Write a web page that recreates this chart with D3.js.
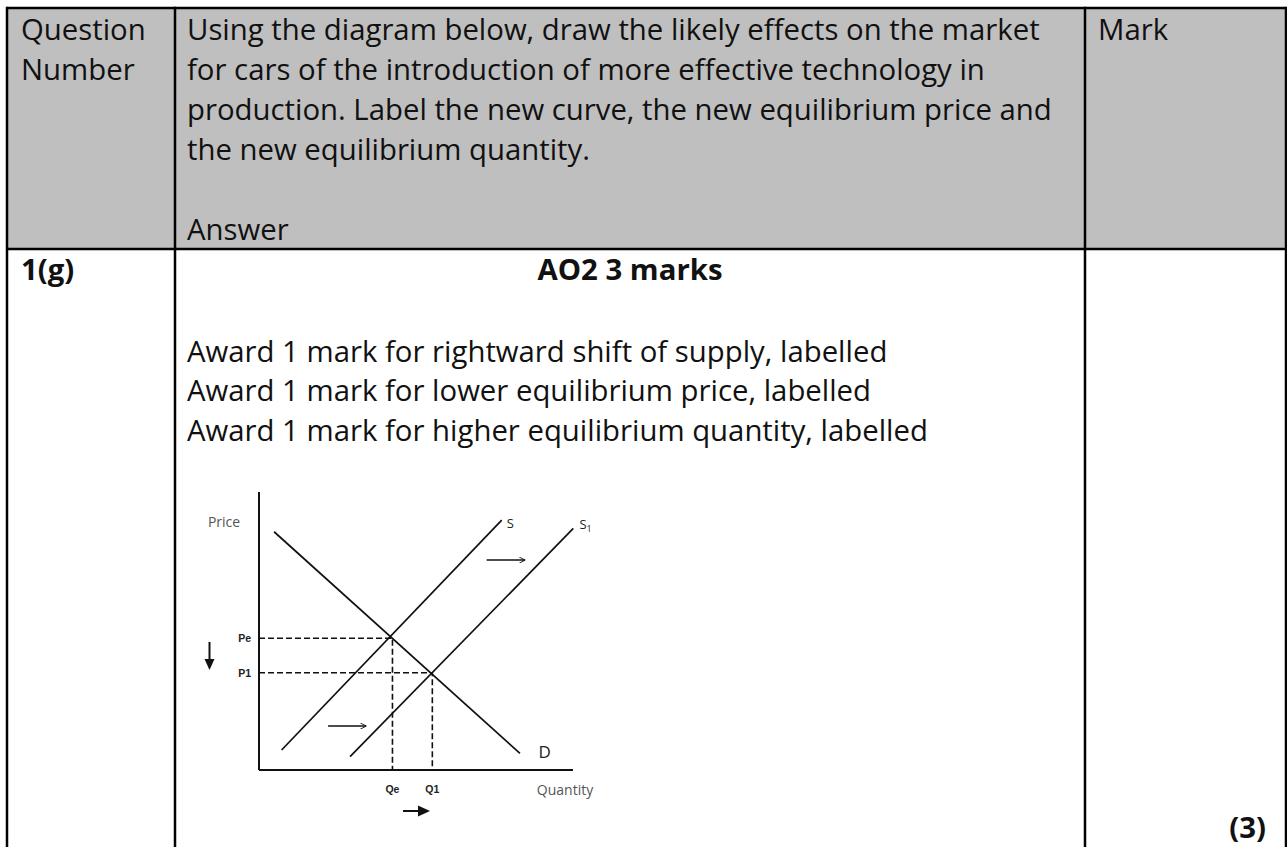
<!DOCTYPE html>
<html>
<head>
<meta charset="utf-8">
<script src="https://cdn.jsdelivr.net/npm/d3@7"></script>
<style>
  html, body { margin: 0; padding: 0; background: #fff; }
  svg { display: block; }
</style>
</head>
<body>
<svg id="chart" width="1287" height="847"></svg>
<script>
// ---------- Data ----------
const headerCells = ["Question\nNumber",
  "Using the diagram below, draw the likely effects on the market\nfor cars of the introduction of more effective technology in\nproduction. Label the new curve, the new equilibrium price and\nthe new equilibrium quantity.\n\nAnswer",
  "Mark"];
const questionNumber = "1(g)";
const answerTitle = "AO2 3 marks";
const answerLines = [
  "Award 1 mark for rightward shift of supply, labelled",
  "Award 1 mark for lower equilibrium price, labelled",
  "Award 1 mark for higher equilibrium quantity, labelled"
];
const markTotal = "(3)";

// diagram curves (quantity, price) on a 0-100 scale
const demandCurve = [[4.8, 85.7], [83.1, 6.0]];
const supplyCurve = [[7.2, 7.2], [77.3, 89.9]];
const supplyCurve1 = [[29.0, 4.8], [100.1, 86.9]];
const equilibria = [
  { q: 42.5, p: 47.4, qLabel: "Qe", pLabel: "Pe" },
  { q: 55.2, p: 35.0, qLabel: "Q1", pLabel: "P1" }
];
const curveLabels = [
  { q: 80.0, p: 89.0, text: "S", sub: "" },
  { q: 104.0, p: 88.5, text: "S", sub: "1" },
  { q: 91.0, p: 6.0, text: "D", sub: "" }
];
const shiftArrows = [[[72.5, 75.5], [84.8, 75.5]], [[22.0, 15.8], [34.2, 15.8]]];
const axisLabels = { price: "Price", quantity: "Quantity" };

// ---------- Layout ----------
const svg = d3.select("#chart");
const colX = [7, 175, 1085, 1286];
const rowY = [8, 249, 847];
const font = "'Open Sans', sans-serif";
const fs = 29.33, lh = 39.9;

// header background
svg.append("rect").attr("x", colX[0]).attr("y", rowY[0])
  .attr("width", colX[3] - colX[0]).attr("height", rowY[1] - rowY[0])
  .attr("fill", "#bfbfbf");

// header text
const textX = [21, 187, 1098];
headerCells.forEach((cell, i) => {
  const t = svg.append("text").attr("font-family", font).attr("font-size", fs)
    .attr("fill", "#111");
  cell.split("\n").forEach((line, j) => {
    t.append("tspan").attr("x", textX[i]).attr("y", 40 + j * lh).text(line);
  });
});

// body
svg.append("text").attr("x", 21).attr("y", 280).attr("font-family", font)
  .attr("font-size", fs).attr("font-weight", "bold").attr("fill", "#111").text(questionNumber);
svg.append("text").attr("x", (colX[1] + colX[2]) / 2).attr("y", 280).attr("text-anchor", "middle")
  .attr("font-family", font).attr("font-size", fs).attr("font-weight", "bold").attr("fill", "#111")
  .text(answerTitle);
answerLines.forEach((line, i) => {
  svg.append("text").attr("x", 187).attr("y", 361.5 + i * lh).attr("font-family", font)
    .attr("font-size", fs).attr("fill", "#111").text(line);
});
svg.append("text").attr("x", 1266).attr("y", 838).attr("text-anchor", "end")
  .attr("font-family", font).attr("font-size", fs).attr("font-weight", "bold").attr("fill", "#111")
  .text(markTotal);

// table borders
const border = svg.append("g").attr("stroke", "#000").attr("stroke-width", 2.5).attr("fill", "none");
border.append("line").attr("x1", colX[0]).attr("x2", colX[3]).attr("y1", rowY[0]).attr("y2", rowY[0]);
border.append("line").attr("x1", colX[0]).attr("x2", colX[3]).attr("y1", rowY[1]).attr("y2", rowY[1]);
colX.forEach(x => border.append("line").attr("x1", x).attr("x2", x).attr("y1", rowY[0] - 1.25).attr("y2", rowY[2]));

// ---------- Diagram ----------
const x = d3.scaleLinear().domain([0, 100]).range([259, 573]);
const y = d3.scaleLinear().domain([0, 100]).range([770, 492]);
const g = svg.append("g");

// axes
g.append("line").attr("x1", x(0)).attr("x2", x(0)).attr("y1", y(100)).attr("y2", y(0))
  .attr("stroke", "#111").attr("stroke-width", 2);
g.append("line").attr("x1", x(0)).attr("x2", x(100)).attr("y1", y(0)).attr("y2", y(0))
  .attr("stroke", "#111").attr("stroke-width", 2);

const line = d3.line().x(d => x(d[0])).y(d => y(d[1]));
[demandCurve, supplyCurve, supplyCurve1].forEach(c => {
  g.append("path").attr("d", line(c)).attr("stroke", "#111").attr("stroke-width", 1.7).attr("fill", "none");
});

// dashed guides
equilibria.forEach(e => {
  g.append("path").attr("d", line([[0, e.p], [e.q, e.p], [e.q, 0]]))
    .attr("stroke", "#111").attr("stroke-width", 1.6).attr("stroke-dasharray", "6,3").attr("fill", "none");
  g.append("text").attr("x", x(0) - 8).attr("y", y(e.p) + 4).attr("text-anchor", "end")
    .attr("font-family", "'Liberation Sans', Arial, sans-serif").attr("font-weight", "bold")
    .attr("font-size", 10.5).attr("fill", "#222").text(e.pLabel);
  g.append("text").attr("x", x(e.q)).attr("y", y(0) + 23).attr("text-anchor", "middle")
    .attr("font-family", "'Liberation Sans', Arial, sans-serif").attr("font-weight", "bold")
    .attr("font-size", 10.5).attr("fill", "#222").text(e.qLabel);
});

// curve labels
curveLabels.forEach(l => {
  const t = g.append("text").attr("x", x(l.q)).attr("y", y(l.p) + 5).attr("text-anchor", "middle")
    .attr("font-family", font).attr("font-size", l.text === "D" ? 17 : 13).attr("fill", "#222").text(l.text);
  if (l.sub) t.append("tspan").attr("font-size", 9).attr("dy", 3).text(l.sub);
});

// axis labels
g.append("text").attr("x", 224).attr("y", 527).attr("text-anchor", "middle").attr("font-family", font)
  .attr("font-size", 14).attr("fill", "#555").text(axisLabels.price);
g.append("text").attr("x", 565).attr("y", 795).attr("text-anchor", "middle").attr("font-family", font)
  .attr("font-size", 14).attr("fill", "#555").text(axisLabels.quantity);

// arrows
const defs = svg.append("defs");
defs.append("marker").attr("id", "thin").attr("viewBox", "0 0 10 10").attr("refX", 10).attr("refY", 5)
  .attr("markerWidth", 6).attr("markerHeight", 6).attr("markerUnits", "userSpaceOnUse").attr("orient", "auto")
  .append("path").attr("d", "M0,0 L10,5 L0,10").attr("fill", "none").attr("stroke", "#111").attr("stroke-width", 1.5);
shiftArrows.forEach(a => {
  g.append("path").attr("d", line(a)).attr("stroke", "#111").attr("stroke-width", 1.5)
    .attr("marker-end", "url(#thin)").attr("fill", "none");
});
// price down arrow
const ax = 209.5;
g.append("line").attr("x1", ax).attr("x2", ax).attr("y1", 642).attr("y2", 662).attr("stroke", "#111").attr("stroke-width", 2);
g.append("path").attr("d", `M${ax - 5},659 L${ax + 5},659 L${ax},670 Z`).attr("fill", "#111");
// quantity right arrow
g.append("line").attr("x1", 403).attr("x2", 420).attr("y1", 811).attr("y2", 811).attr("stroke", "#111").attr("stroke-width", 2);
g.append("path").attr("d", "M418,805.5 L418,816.5 L430,811 Z").attr("fill", "#111");
</script>
</body>
</html>
